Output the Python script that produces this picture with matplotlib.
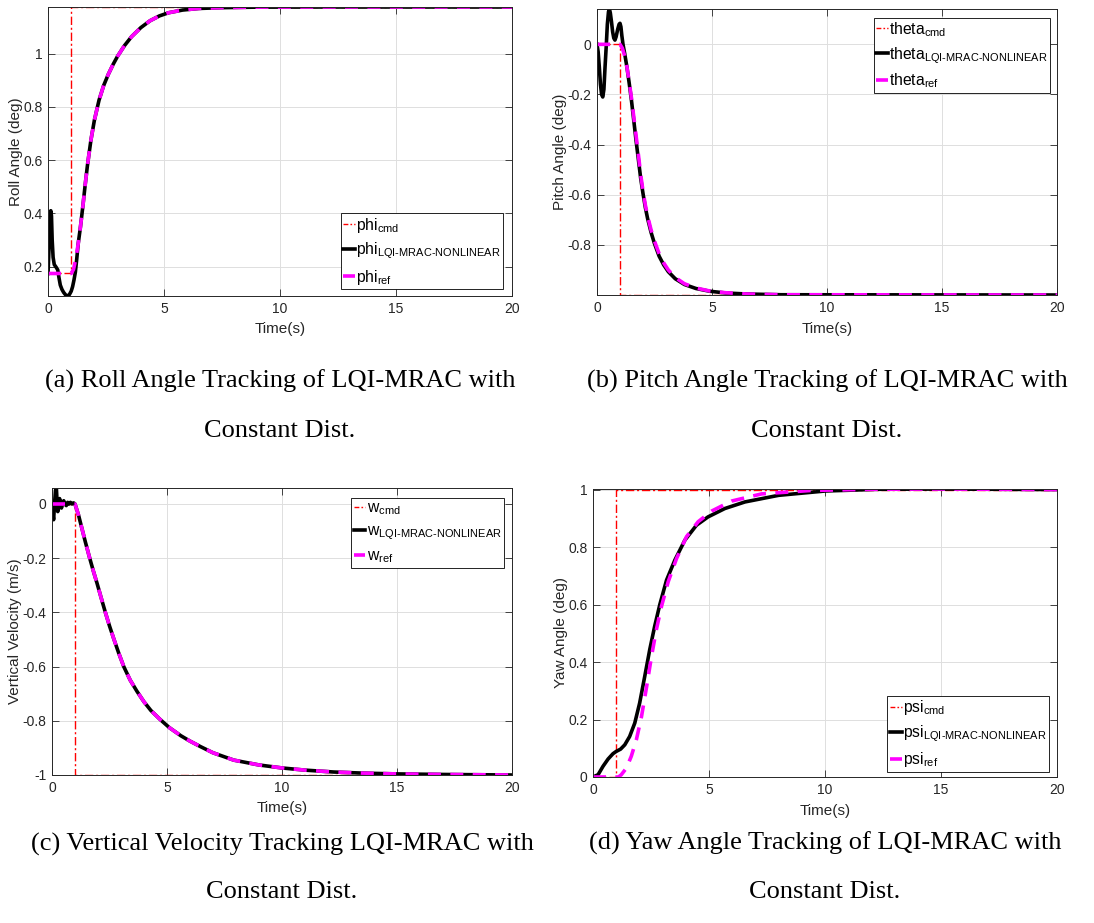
import matplotlib
matplotlib.use("Agg")
import matplotlib.pyplot as plt
from matplotlib.ticker import FuncFormatter

plt.rcParams['font.family'] = ['Liberation Sans', 'DejaVu Sans']
plt.rcParams['axes.unicode_minus'] = False
plt.rcParams['mathtext.fontset'] = 'custom'
plt.rcParams['mathtext.rm'] = 'Liberation Sans'
plt.rcParams['mathtext.it'] = 'Liberation Sans:italic'
plt.rcParams['mathtext.bf'] = 'Liberation Sans:bold'

# --- values ---

# step commands (same switching time for all four channels)
t_cmd = [0, 1, 1, 20]
phi_cmd = [0.1745, 0.1745, 1.1745, 1.1745]
theta_cmd = [0, 0, -1, -1]
w_cmd = [0, 0, -1, -1]
psi_cmd = [0, 0, 1, 1]

# (a) roll
t_phi_ref = [0, 1.0, 1.1, 1.2, 1.3, 1.4, 1.5, 1.6, 1.7, 1.85, 2.0, 2.2, 2.4, 2.6, 2.8,
             3.0, 3.3, 3.6, 4.0, 4.4, 4.8, 5.2, 5.8, 6.5, 7.5, 9.0, 12, 20]
phi_ref = [0.1745, 0.1745, 0.19, 0.23, 0.285, 0.35, 0.425, 0.505, 0.58, 0.675, 0.75,
           0.825, 0.88, 0.922, 0.958, 0.99, 1.03, 1.063, 1.097, 1.123, 1.141, 1.153,
           1.163, 1.169, 1.172, 1.174, 1.1745, 1.1745]
t_phi = [0, 0.04, 0.08, 0.12, 0.15, 0.18, 0.22, 0.27, 0.35, 0.42, 0.47, 0.53, 0.6, 0.67,
         0.76, 0.84, 0.92, 1.0, 1.06, 1.12, 1.18, 1.24, 1.3, 1.4, 1.5, 1.6, 1.7, 1.85,
         2.0, 2.2, 2.4, 2.6, 2.8, 3.0, 3.3, 3.6, 4.0, 4.4, 4.8, 5.2, 5.8, 6.5, 7.5, 9.0,
         12, 20]
phi_lqi = [0.1745, 0.26, 0.37, 0.41, 0.39, 0.30, 0.235, 0.208, 0.198, 0.188, 0.16, 0.131,
           0.115, 0.104, 0.094, 0.09, 0.095, 0.108, 0.125, 0.15, 0.18, 0.23, 0.285, 0.35,
           0.425, 0.505, 0.58, 0.675, 0.75, 0.825, 0.88, 0.922, 0.958, 0.99, 1.03, 1.063,
           1.097, 1.123, 1.141, 1.153, 1.163, 1.169, 1.172, 1.174, 1.1745, 1.1745]

# (b) pitch
t_theta_ref = [0, 1.0, 1.1, 1.2, 1.3, 1.4, 1.5, 1.6, 1.7, 1.8, 1.9, 2.0, 2.1, 2.2, 2.35,
               2.5, 2.7, 2.9, 3.1, 3.4, 3.8, 4.3, 4.9, 5.6, 6.5, 8, 20]
theta_ref = [0, 0, -0.015, -0.045, -0.09, -0.15, -0.215, -0.29, -0.365, -0.44, -0.52,
             -0.585, -0.64, -0.685, -0.74, -0.785, -0.835, -0.872, -0.9, -0.93, -0.955,
             -0.972, -0.984, -0.991, -0.996, -0.999, -1.0]
t_theta = [0, 0.05, 0.1, 0.15, 0.2, 0.25, 0.3, 0.35, 0.4, 0.45, 0.5, 0.54, 0.58, 0.63,
           0.68, 0.73, 0.78, 0.83, 0.9, 0.96, 1.0, 1.04, 1.08, 1.13, 1.2, 1.3, 1.4, 1.5,
           1.6, 1.7, 1.8, 1.9, 2.0, 2.1, 2.2, 2.35, 2.5, 2.7, 2.9, 3.1, 3.4, 3.8, 4.3,
           4.9, 5.6, 6.5, 8, 20]
theta_lqi = [0, -0.03, -0.09, -0.16, -0.2, -0.21, -0.18, -0.09, -0.01, 0.08, 0.13, 0.141,
             0.125, 0.09, 0.05, 0.025, 0.017, 0.03, 0.06, 0.08, 0.084, 0.07, 0.035, 0.0,
             -0.035, -0.09, -0.155, -0.225, -0.305, -0.385, -0.46, -0.535, -0.595,
             -0.65, -0.695, -0.75, -0.795, -0.845, -0.88, -0.907, -0.935, -0.958,
             -0.974, -0.985, -0.992, -0.996, -0.999, -1.0]

# (c) vertical velocity
t_w_ref = [0, 1.0, 1.15, 1.3, 1.45, 1.64, 1.8, 1.96, 2.15, 2.32, 2.5, 2.68, 2.9, 3.12,
           3.4, 3.7, 4.0, 4.3, 4.7, 5.1, 5.6, 6.0, 6.45, 7.0, 7.9, 9.0, 10, 11, 12.25,
           13.5, 15, 17, 20]
w_ref = [0, 0, -0.04, -0.09, -0.14, -0.2, -0.248, -0.293, -0.35, -0.40, -0.45, -0.496,
         -0.55, -0.60, -0.65, -0.692, -0.73, -0.762, -0.795, -0.825, -0.855, -0.875,
         -0.895, -0.918, -0.945, -0.963, -0.974, -0.982, -0.989, -0.993, -0.996,
         -0.998, -1.0]
t_w_early = [0, 0.03, 0.07, 0.11, 0.15, 0.19, 0.22, 0.25, 0.29, 0.33, 0.37, 0.41, 0.46,
             0.51, 0.56, 0.62, 0.68, 0.74, 0.8, 0.87, 0.94]
w_early = [0, -0.03, -0.058, 0.0, 0.05, 0.059, 0.01, -0.028, 0.0, 0.02, 0.005, -0.015,
           0.0, 0.012, 0.0, -0.006, 0.006, 0.0, 0.006, 0.0, 0.004]

# (d) yaw
t_psi_ref = [0, 1.1, 1.22, 1.44, 1.65, 1.87, 2.09, 2.30, 2.52, 2.73, 2.95, 3.24, 3.6,
             4.03, 4.53, 5.11, 5.97, 7.27, 9.42, 12, 15, 20]
psi_ref = [0, 0, 0.008, 0.031, 0.072, 0.13, 0.21, 0.309, 0.419, 0.512, 0.593, 0.679,
           0.76, 0.836, 0.888, 0.925, 0.96, 0.985, 0.997, 1.001, 1.002, 1.0]
t_psi = [0, 0.22, 0.43, 0.65, 0.86, 1.0, 1.19, 1.37, 1.58, 1.8, 2.01, 2.23, 2.45, 2.66,
         2.88, 3.17, 3.53, 3.96, 4.46, 4.96, 5.68, 6.55, 8.0, 10, 12.3, 15, 20]
psi_lqi = [0, 0.008, 0.037, 0.0625, 0.081, 0.089, 0.097, 0.112, 0.141, 0.1875, 0.257,
           0.35, 0.445, 0.525, 0.60, 0.685, 0.755, 0.824, 0.876, 0.905, 0.934, 0.957,
           0.98, 0.995, 1.001, 1.002, 1.0]

# --- figure ---

RED = '#ff0000'
MAG = '#ff00ff'
TXT = '#262626'

fig = plt.figure(figsize=(10.94, 9.23), dpi=100)


def px_axes(x0, y0, x1, y1):
    W, H = 1094, 923
    return fig.add_axes([x0 / W, 1 - y1 / H, (x1 - x0) / W, (y1 - y0) / H])


def tick_fmt(v, pos):
    v = round(v, 6)
    return '0' if v == 0 else f'{v:g}'


def panel(ax, name, tc, vc, t1, v1, t2, v2, ylim, yticks, ylabel, leg_loc, leg_anchor):
    ax.plot(tc, vc, color=RED, lw=1.0, ls=(0, (6, 2, 1.5, 2)), label=name + r'$_{\mathrm{cmd}}$')
    ax.plot(t1, v1, color='k', lw=2.6, solid_joinstyle='round',
            label=name + r'$_{\text{LQI-MRAC-NONLINEAR}}$')
    ax.plot(t2, v2, color=MAG, lw=2.6, ls=(0, (3.6, 2.6)), label=name + r'$_{\mathrm{ref}}$')
    ax.set_xlim(0, 20)
    ax.set_ylim(*ylim)
    ax.set_xticks([0, 5, 10, 15, 20])
    ax.set_yticks(yticks)
    ax.xaxis.set_major_formatter(FuncFormatter(tick_fmt))
    ax.yaxis.set_major_formatter(FuncFormatter(tick_fmt))
    ax.grid(True, color='#dedede', lw=0.7)
    ax.set_axisbelow(True)
    ax.tick_params(direction='in', length=5, width=0.6, top=True, right=True,
                   labelsize=10, colors=TXT, pad=4)
    for s in ax.spines.values():
        s.set_color(TXT)
        s.set_linewidth(0.7)
    ax.set_xlabel('Time(s)', fontsize=11, color=TXT, labelpad=5)
    ax.set_ylabel(ylabel, fontsize=11, color=TXT, labelpad=0)
    leg = ax.legend(loc=leg_loc, bbox_to_anchor=leg_anchor, borderaxespad=0, fontsize=11.3,
                    handlelength=0.75, handletextpad=0.1, borderpad=0.15,
                    labelspacing=0.4, fancybox=False, framealpha=1, edgecolor='k')
    leg.get_frame().set_linewidth(0.6)
    # shorter dash-dot in the legend key so both dash and dot show
    leg.get_lines()[0].set_linestyle((0, (3.5, 1.5, 1.2, 1.5)))


ax_a = px_axes(48, 7, 512, 296)
panel(ax_a, 'phi', t_cmd, phi_cmd, t_phi, phi_lqi, t_phi_ref, phi_ref,
      (0.09, 1.1745), [0.2, 0.4, 0.6, 0.8, 1.0], 'Roll Angle (deg)',
      'lower right', (0.981, 0.024))

ax_b = px_axes(597, 9, 1057, 295)
panel(ax_b, 'theta', t_cmd, theta_cmd, t_theta, theta_lqi, t_theta_ref, theta_ref,
      (-1.0, 0.141), [-0.8, -0.6, -0.4, -0.2, 0], 'Pitch Angle (deg)',
      'upper right', (0.985, 0.970))

ax_c = px_axes(52, 488, 512, 775)
t_w = t_w_early + t_w_ref[1:]
w_lqi = w_early + w_ref[1:]
panel(ax_c, 'w', t_cmd, w_cmd, t_w, w_lqi, t_w_ref, w_ref,
      (-1.0, 0.059), [-1, -0.8, -0.6, -0.4, -0.2, 0], 'Vertical Velocity (m/s)',
      'upper right', (0.983, 0.964))

ax_d = px_axes(593, 489, 1057, 777)
panel(ax_d, 'psi', t_cmd, psi_cmd, t_psi, psi_lqi, t_psi_ref, psi_ref,
      (0, 1.002), [0, 0.2, 0.4, 0.6, 0.8, 1.0], 'Yaw Angle (deg)',
      'lower right', (0.983, 0.018))

# captions under each panel
cap = dict(fontsize=19, family=['Liberation Serif', 'DejaVu Serif'], ha='center',
           va='baseline', color='k')
fig.text(280 / 1094, 1 - 388 / 923, '(a) Roll Angle Tracking of LQI-MRAC with', **cap)
fig.text(280 / 1094, 1 - 437 / 923, 'Constant Dist.', **cap)
fig.text(827 / 1094, 1 - 388 / 923, '(b) Pitch Angle Tracking of LQI-MRAC with', **cap)
fig.text(827 / 1094, 1 - 437 / 923, 'Constant Dist.', **cap)
fig.text(282 / 1094, 1 - 851 / 923, '(c) Vertical Velocity Tracking LQI-MRAC with', **cap)
fig.text(282 / 1094, 1 - 898 / 923, 'Constant Dist.', **cap)
fig.text(825 / 1094, 1 - 850 / 923, '(d) Yaw Angle Tracking of LQI-MRAC with', **cap)
fig.text(825 / 1094, 1 - 898 / 923, 'Constant Dist.', **cap)

fig.savefig('out.png', dpi=100, facecolor='white')
